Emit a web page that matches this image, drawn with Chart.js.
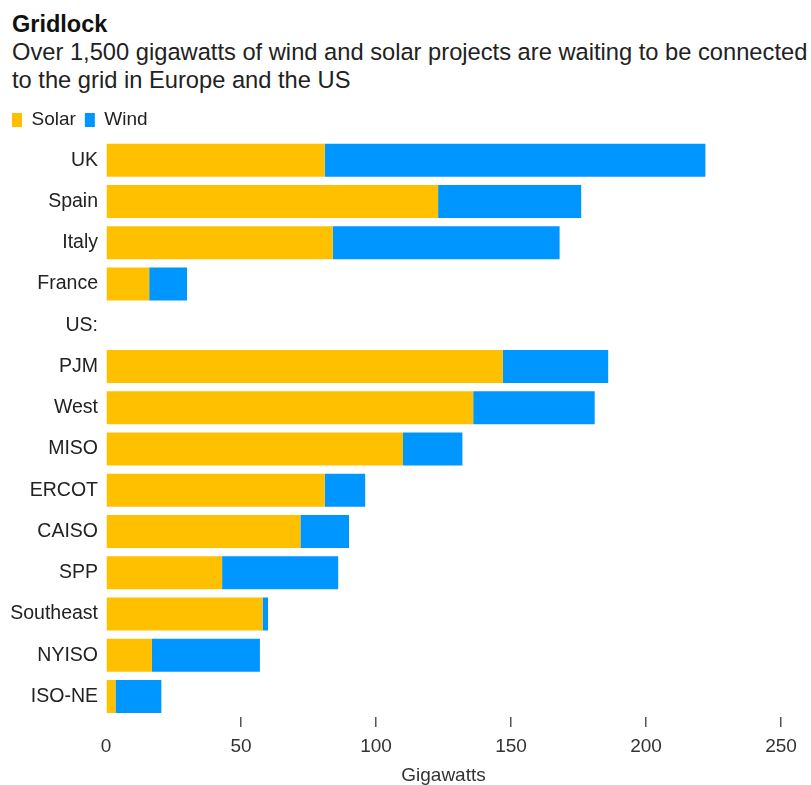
<!DOCTYPE html>
<html>
<head>
<meta charset="utf-8">
<script src="https://cdn.jsdelivr.net/npm/chart.js@4.4.1/dist/chart.umd.min.js"></script>
<style>
  html, body { margin: 0; padding: 0; background: #fff; }
  body { width: 811px; height: 785px; overflow: hidden; font-family: 'Liberation Sans', Arial, sans-serif; }
  .head { padding: 10px 0 0 12px; height: 84px; color: #111; white-space: nowrap; }
  .head .title { font-size: 23.5px; font-weight: bold; line-height: 28px; }
  .head .sub   { font-size: 23.7px; line-height: 28px; color: #222; }
  .chart-box { position: relative; width: 811px; height: 691px; }
</style>
</head>
<body>
<div class="head">
  <div class="title">Gridlock</div>
  <div class="sub">Over 1,500 gigawatts of wind and solar projects are waiting to be connected<br>to the grid in Europe and the US</div>
</div>
<div class="chart-box"><canvas id="gridChart"></canvas></div>

<script>
/* ── Data (GW in the interconnection queue) ─────────────────────────── */
const regions = ['UK', 'Spain', 'Italy', 'France', 'US:', 'PJM', 'West', 'MISO',
                 'ERCOT', 'CAISO', 'SPP', 'Southeast', 'NYISO', 'ISO-NE'];
const solarGW = [81, 123, 84, 16, null, 147, 136, 110, 81, 72, 43, 58, 17, 3.5];
const windGW  = [141, 53, 84, 14, null, 39, 45, 22, 15, 18, 43, 2, 40, 17];
const xTicks  = [0, 50, 100, 150, 200, 250];

const SOLAR = '#ffc000';
const WIND  = '#0096ff';

Chart.defaults.font.family = "'Liberation Sans', Arial, sans-serif";

new Chart(document.getElementById('gridChart').getContext('2d'), {
  type: 'bar',
  data: {
    labels: regions,
    datasets: [
      { label: 'Solar', data: solarGW, backgroundColor: SOLAR },
      { label: 'Wind',  data: windGW,  backgroundColor: WIND }
    ]
  },
  options: {
    indexAxis: 'y',
    responsive: true,
    maintainAspectRatio: false,
    animation: false,
    layout: { padding: { left: 3, right: 30, top: 7.5, bottom: 0 } },
    datasets: { bar: { categoryPercentage: 1, barPercentage: 0.8, borderWidth: 0 } },
    plugins: {
      legend: {
        align: 'start',
        labels: { boxWidth: 10, boxHeight: 14, padding: 9, color: '#222', font: { size: 19 } }
      },
      tooltip: { enabled: false }
    },
    scales: {
      x: {
        stacked: true,
        min: 0, max: 250,
        afterBuildTicks: s => { s.ticks = xTicks.map(v => ({ value: v })); },
        afterFit: s => { s.height = 68; },
        border: { display: false },
        grid: {
          drawOnChartArea: false,
          tickLength: 10,
          lineWidth: 1.5,
          color: c => (c.tick && c.tick.value === 0) ? 'rgba(0,0,0,0)' : '#555'
        },
        ticks: { color: '#333', font: { size: 19 }, padding: 8, maxRotation: 0 },
        title: { display: true, text: 'Gigawatts', color: '#333', font: { size: 19, lineHeight: 1 }, padding: 0 }
      },
      y: {
        stacked: true,
        afterFit: s => { s.width = 103; },
        border: { display: false },
        grid: { display: false, drawTicks: false },
        ticks: { color: '#222', font: { size: 19.5 }, padding: 8, autoSkip: false }
      }
    }
  }
});
</script>
</body>
</html>
